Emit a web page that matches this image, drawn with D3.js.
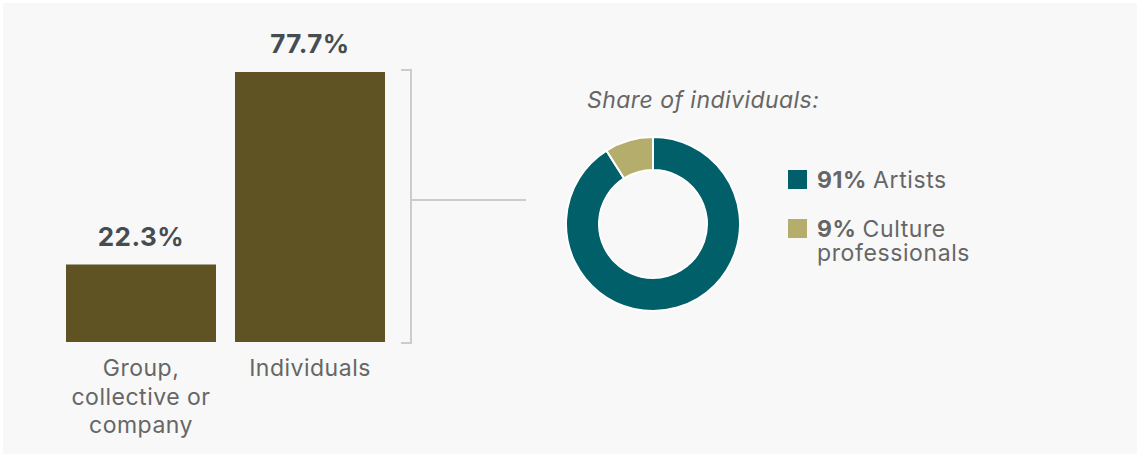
<!DOCTYPE html>
<html>
<head>
<meta charset="utf-8">
<script src="https://cdn.jsdelivr.net/npm/d3@7"></script>
<style>
  html, body { margin: 0; padding: 0; background: #ffffff; }
  svg { display: block; }
  text { font-family: Inter, "Noto Sans", sans-serif; }
</style>
</head>
<body>
<svg id="chart" width="1140" height="457"></svg>
<script>
// Applicant type shares (percent)
const categories = ["Group, collective or company", "Individuals"];
const categoryLines = [["Group,", "collective or", "company"], ["Individuals"]];
const shares = [22.3, 77.7];
const valueLabels = ["22.3%", "77.7%"];

// Breakdown of the individuals
const subCategories = ["Artists", "Culture professionals"];
const subShares = [91, 9];
const subPctLabels = ["91%", "9%"];
const subNameLines = [["Artists"], ["Culture", "professionals"]];
const subColors = ["#005f69", "#b5ad6b"];

const svg = d3.select("#chart");

svg.append("rect")
  .attr("x", 3).attr("y", 3)
  .attr("width", 1134).attr("height", 451)
  .attr("fill", "#f8f8f8");

// ---- Bar chart ----
const baseline = 342;
const x = d3.scaleBand().domain(categories).range([66, 385]).paddingInner(0.1124).paddingOuter(0);
const y = d3.scaleLinear().domain([0, 77.7]).range([baseline, 72]);

const bars = svg.append("g");
bars.selectAll("rect").data(categories).join("rect")
  .attr("x", d => x(d))
  .attr("width", x.bandwidth())
  .attr("y", (d, i) => y(shares[i]))
  .attr("height", (d, i) => baseline - y(shares[i]))
  .attr("fill", "#5f5223");

bars.selectAll("text.val").data(categories).join("text")
  .attr("class", "val")
  .attr("x", d => x(d) + x.bandwidth() / 2)
  .attr("y", (d, i) => y(shares[i]) - 19)
  .attr("text-anchor", "middle")
  .attr("font-size", 26)
  .attr("font-weight", 700)
  .attr("letter-spacing", 0.5)
  .attr("fill", "#454d52")
  .text((d, i) => valueLabels[i]);

categories.forEach((c, i) => {
  const t = bars.append("text")
    .attr("x", x(c) + x.bandwidth() / 2)
    .attr("y", 376)
    .attr("text-anchor", "middle")
    .attr("font-size", 23)
    .attr("letter-spacing", 0.5)
    .attr("fill", "#666666");
  categoryLines[i].forEach((line, j) => {
    t.append("tspan")
      .attr("x", x(c) + x.bandwidth() / 2)
      .attr("dy", j === 0 ? 0 : 28.5)
      .text(line);
  });
});

// ---- Bracket connecting the Individuals bar to the breakdown ----
const bx = 411;
const bracket = svg.append("g")
  .attr("fill", "none")
  .attr("stroke", "#cccccc")
  .attr("stroke-width", 2);
bracket.append("path")
  .attr("d", `M${bx - 10},${y(77.7) - 2}H${bx}V${baseline + 1}H${bx - 10}`);
bracket.append("line")
  .attr("x1", bx).attr("x2", 526)
  .attr("y1", 200).attr("y2", 200);

// ---- Donut ----
const cx = 653, cy = 224;
const pie = d3.pie().sort(null).value(d => d);
const arc = d3.arc().innerRadius(54).outerRadius(87);
svg.append("g")
  .attr("transform", `translate(${cx},${cy})`)
  .selectAll("path")
  .data(pie(subShares))
  .join("path")
  .attr("d", arc)
  .attr("fill", (d, i) => subColors[i])
  .attr("stroke", "#ffffff")
  .attr("stroke-width", 2);

svg.append("text")
  .attr("x", 587).attr("y", 108)
  .attr("font-size", 23)
  .attr("font-style", "italic")
  .attr("letter-spacing", 0.45)
  .attr("fill", "#666666")
  .text("Share of individuals:");

// ---- Legend ----
const legendY = [170, 219];
const legend = svg.append("g");
subCategories.forEach((s, i) => {
  legend.append("rect")
    .attr("x", 788).attr("y", legendY[i])
    .attr("width", 19).attr("height", 19)
    .attr("fill", subColors[i]);
  const t = legend.append("text")
    .attr("x", 817).attr("y", legendY[i] + 18)
    .attr("font-size", 23)
    .attr("letter-spacing", 0.6)
    .attr("fill", "#666666");
  t.append("tspan").attr("font-weight", 700).text(subPctLabels[i] + " ");
  t.append("tspan").text(subNameLines[i][0]);
  subNameLines[i].slice(1).forEach(line => {
    t.append("tspan").attr("x", 817).attr("dy", 24).text(line);
  });
});
</script>
</body>
</html>
